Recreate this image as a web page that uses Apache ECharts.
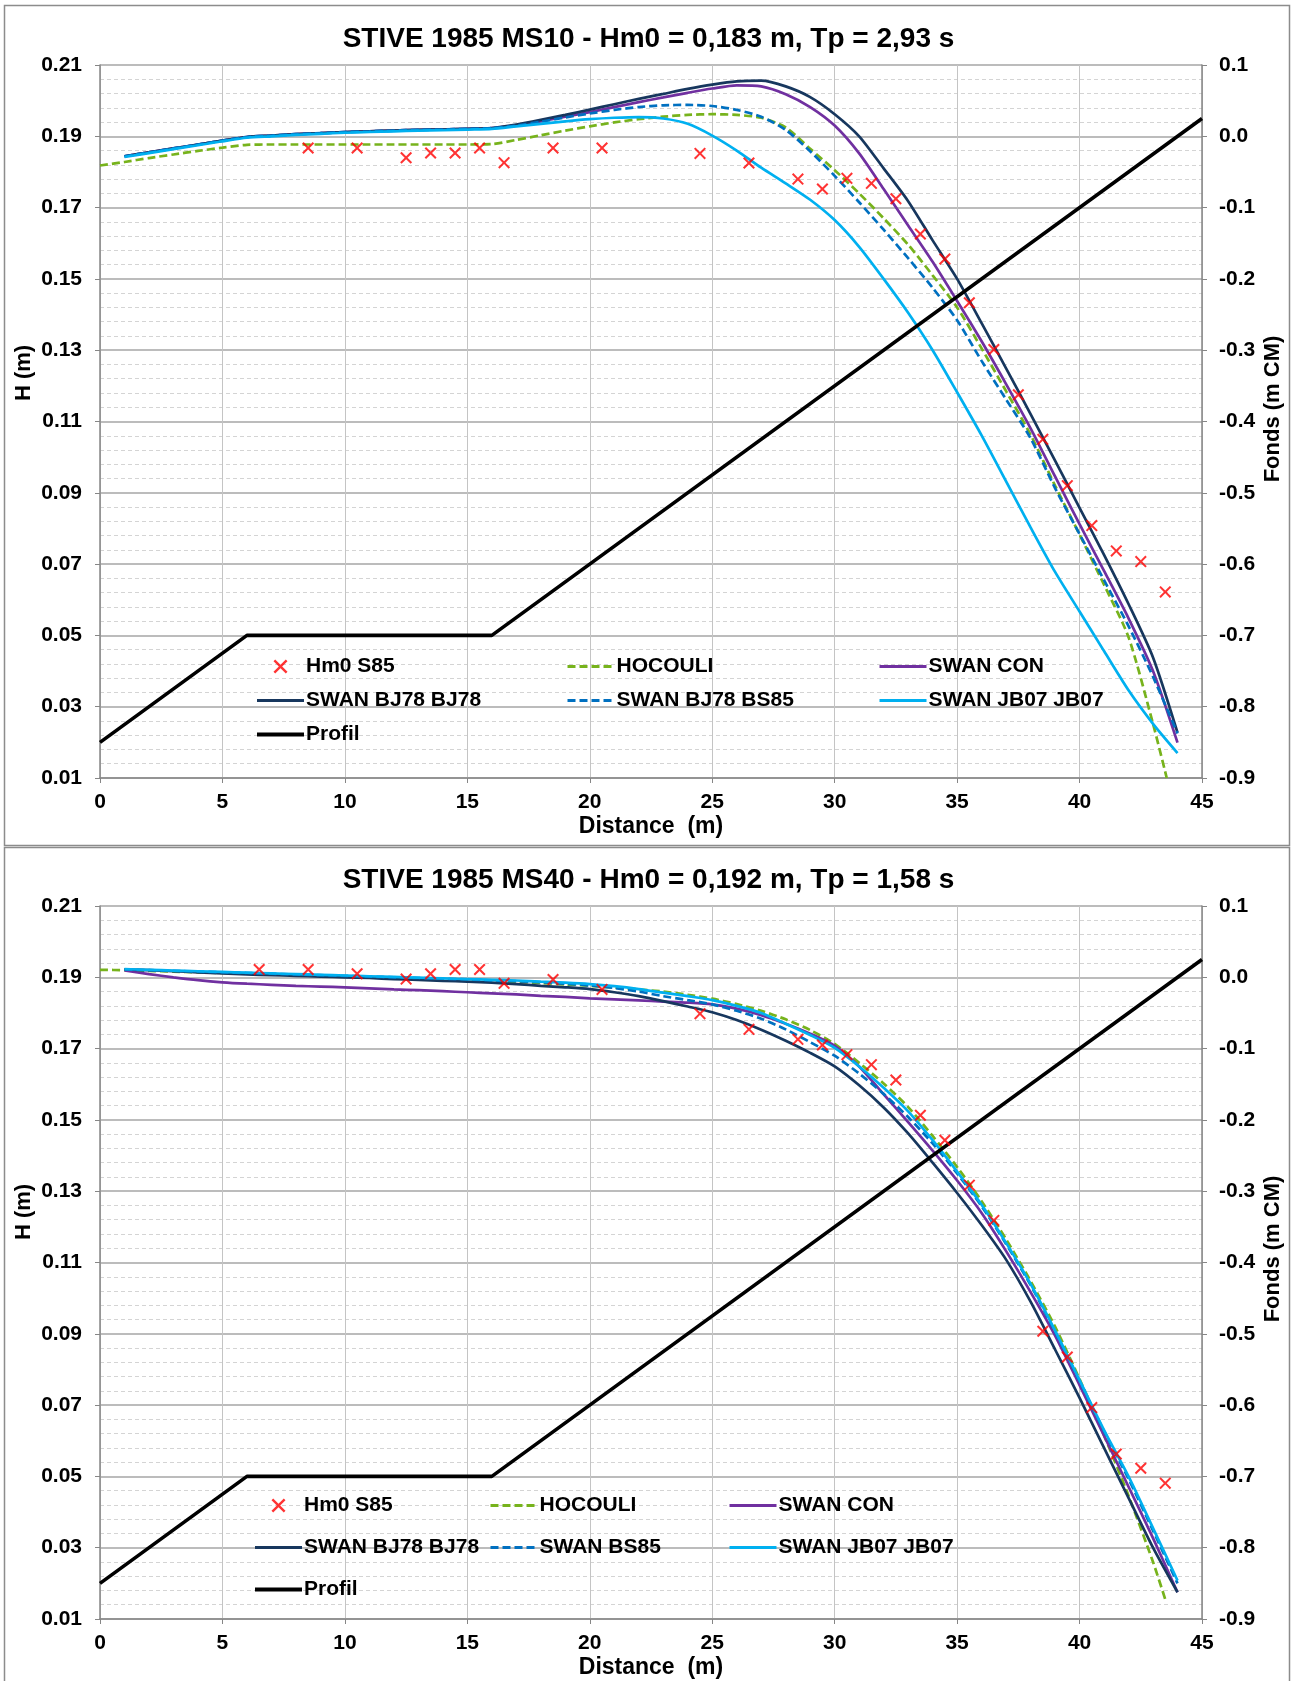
<!DOCTYPE html>
<html><head><meta charset="utf-8">
<script src="https://cdn.jsdelivr.net/npm/echarts@6/dist/echarts.min.js"></script>
<style>html,body{margin:0;padding:0;background:#fff}#c{width:1297px;height:1681px}</style>
</head><body><div id="c"></div>
<script>
// ---------- DATA ----------
const titleTop = 'STIVE 1985 MS10 - Hm0 = 0,183 m, Tp = 2,93 s';
const titleBot = 'STIVE 1985 MS40 - Hm0 = 0,192 m, Tp = 1,58 s';
const xTicks = [0, 5, 10, 15, 20, 25, 30, 35, 40, 45];

const distSwan = [1,2,3,4,5,6,7,8,9,10,11,12,13,14,15,16,17,18,19,20,21,22,23,24,25,26,27,28,29,30,31,32,33,34,35,36,37,38,39,40,41,42,43,44];
const distHocTop = [0,1,2,3,4,5,6,7,8,9,10,11,12,13,14,15,16,17,18,19,20,21,22,23,24,25,26,27,28,29,30,31,32,33,34,35,36,37,38,39,40,41,42,43,43.56];
const distHocBot = [0,1,2,3,4,5,6,7,8,9,10,11,12,13,14,15,16,17,18,19,20,21,22,23,24,25,26,27,28,29,30,31,32,33,34,35,36,37,38,39,40,41,42,43,43.5];
const distProfil = [0, 6, 16, 45];
const fondsProfil = [-0.85, -0.70, -0.70, 0.025];

// MS10 (top)
const distMeasTop = [8.5,10.5,12.5,13.5,14.5,15.5,16.5,18.5,20.5,24.5,26.5,28.5,29.5,30.5,31.5,32.5,33.5,34.5,35.5,36.5,37.5,38.5,39.5,40.5,41.5,42.5,43.5];
const hm0Top = [0.1867,0.1867,0.1840,0.1853,0.1853,0.1867,0.1826,0.1867,0.1867,0.1852,0.1825,0.1780,0.1752,0.1782,0.1768,0.1725,0.1626,0.1556,0.1433,0.1302,0.1175,0.1050,0.0920,0.0808,0.0737,0.0707,0.0622];
const hocTop = [0.1818,0.1828,0.1839,0.1849,0.1859,0.1868,0.1876,0.1877,0.1877,0.1877,0.1877,0.1877,0.1877,0.1877,0.1877,0.1877,0.1878,0.1890,0.1903,0.1916,0.1928,0.1939,0.1948,0.1955,0.1960,0.1962,0.1960,0.1952,0.1925,0.1865,0.1805,0.1740,0.1670,0.1596,0.1510,0.1420,0.1305,0.1185,0.1063,0.0920,0.0783,0.0642,0.0495,0.0252,0.0100];
const conTop = [0.1844,0.1855,0.1866,0.1877,0.1888,0.1898,0.1902,0.1906,0.1909,0.1912,0.1914,0.1916,0.1918,0.1919,0.1921,0.1923,0.1931,0.1942,0.1955,0.1968,0.1982,0.1996,0.2009,0.2022,0.2034,0.2043,0.2040,0.2018,0.1982,0.1930,0.1852,0.1752,0.1650,0.1548,0.1438,0.1325,0.1205,0.1081,0.0946,0.0812,0.0681,0.0548,0.0400,0.0199];
const bj78Top = [0.1844,0.1855,0.1866,0.1877,0.1888,0.1898,0.1902,0.1906,0.1909,0.1912,0.1914,0.1916,0.1918,0.1919,0.1921,0.1923,0.1933,0.1946,0.1960,0.1975,0.1990,0.2005,0.2019,0.2033,0.2045,0.2054,0.2056,0.2040,0.2010,0.1962,0.1900,0.1810,0.1718,0.1608,0.1500,0.1376,0.1249,0.1121,0.0990,0.0858,0.0726,0.0588,0.0438,0.0227];
const bs85Top = [0.1844,0.1855,0.1866,0.1877,0.1888,0.1898,0.1902,0.1906,0.1909,0.1912,0.1914,0.1916,0.1918,0.1919,0.1921,0.1923,0.1930,0.1941,0.1953,0.1964,0.1974,0.1982,0.1987,0.1988,0.1985,0.1974,0.1955,0.1918,0.1858,0.1789,0.1715,0.1638,0.1558,0.1475,0.1384,0.1270,0.1162,0.1053,0.0913,0.0784,0.0655,0.0526,0.0384,0.0225];
const jb07Top = [0.1842,0.1853,0.1864,0.1875,0.1886,0.1896,0.1900,0.1904,0.1907,0.1910,0.1912,0.1914,0.1916,0.1917,0.1919,0.1921,0.1928,0.1935,0.1942,0.1948,0.1952,0.1954,0.1950,0.1935,0.1902,0.1860,0.1812,0.1768,0.1722,0.1665,0.1590,0.1500,0.1405,0.1300,0.1182,0.1061,0.0932,0.0803,0.0678,0.0567,0.0456,0.0346,0.0252,0.0170];

// MS40 (bottom)
const distMeasBot = [6.5,8.5,10.5,12.5,13.5,14.5,15.5,16.5,18.5,20.5,24.5,26.5,28.5,29.5,30.5,31.5,32.5,33.5,34.5,35.5,36.5,38.5,39.5,40.5,41.5,42.5,43.5];
const hm0Bot = [0.1922,0.1922,0.1910,0.1895,0.1910,0.1922,0.1922,0.1883,0.1894,0.1866,0.1798,0.1754,0.1726,0.1710,0.1683,0.1655,0.1612,0.1513,0.1443,0.1317,0.1218,0.0907,0.0835,0.0693,0.0563,0.0523,0.0481];
const hocBot = [0.1921,0.1920,0.1918,0.1916,0.1914,0.1912,0.1910,0.1908,0.1906,0.1904,0.1902,0.1900,0.1898,0.1896,0.1894,0.1892,0.1890,0.1887,0.1884,0.1880,0.1876,0.1871,0.1866,0.1860,0.1851,0.1840,0.1825,0.1806,0.1782,0.1752,0.1713,0.1660,0.1602,0.1536,0.1455,0.1368,0.1272,0.1165,0.1048,0.0920,0.0773,0.0615,0.0446,0.0260,0.0155];
const conBot = [0.1919,0.1909,0.1900,0.1892,0.1886,0.1882,0.1879,0.1876,0.1874,0.1872,0.1869,0.1866,0.1864,0.1861,0.1858,0.1855,0.1852,0.1848,0.1845,0.1841,0.1838,0.1835,0.1832,0.1829,0.1824,0.1812,0.1794,0.1770,0.1742,0.1708,0.1650,0.1572,0.1494,0.1414,0.1330,0.1239,0.1132,0.1017,0.0895,0.0756,0.0614,0.0471,0.0327,0.0175];
const bj78Bot = [0.1922,0.1920,0.1917,0.1914,0.1911,0.1908,0.1906,0.1904,0.1902,0.1900,0.1898,0.1895,0.1893,0.1890,0.1888,0.1885,0.1881,0.1876,0.1872,0.1867,0.1858,0.1847,0.1833,0.1818,0.1802,0.1780,0.1753,0.1722,0.1688,0.1650,0.1597,0.1535,0.1462,0.1380,0.1295,0.1205,0.1108,0.0990,0.0856,0.0720,0.0580,0.0440,0.0300,0.0175];
const bs85Bot = [0.1922,0.1920,0.1918,0.1916,0.1914,0.1912,0.1910,0.1908,0.1906,0.1904,0.1902,0.1900,0.1898,0.1896,0.1894,0.1891,0.1889,0.1886,0.1882,0.1877,0.1870,0.1860,0.1847,0.1836,0.1824,0.1806,0.1784,0.1754,0.1718,0.1680,0.1630,0.1573,0.1508,0.1434,0.1350,0.1258,0.1152,0.1037,0.0906,0.0767,0.0627,0.0493,0.0348,0.0200];
const jb07Bot = [0.1923,0.1921,0.1919,0.1917,0.1915,0.1913,0.1911,0.1909,0.1907,0.1905,0.1903,0.1901,0.1899,0.1897,0.1895,0.1893,0.1891,0.1888,0.1885,0.1881,0.1875,0.1867,0.1857,0.1847,0.1836,0.1820,0.1800,0.1770,0.1738,0.1702,0.1650,0.1590,0.1524,0.1443,0.1355,0.1262,0.1155,0.1040,0.0909,0.0770,0.0630,0.0500,0.0355,0.0208];

const namesTop = ['Hm0 S85','HOCOULI','SWAN CON','SWAN BJ78 BJ78','SWAN BJ78 BS85','SWAN JB07 JB07','Profil'];
const namesBot = ['Hm0 S85','HOCOULI','SWAN CON','SWAN BJ78 BJ78','SWAN BS85','SWAN JB07 JB07','Profil'];

// ---------- STYLE ----------
const FONT = '"Liberation Sans", Arial, sans-serif';
const COL = {hm0:'#FF0000', hoc:'#77B31C', con:'#7030A0', bj78:'#17375E', bs85:'#0070C0', jb07:'#00B0F0', prof:'#000000'};
const GL = 100, GW = 1102, GH = 713;
const GT = [65, 906];
const XMARK = 'path://M0,1.2L1.2,0L5,3.8L8.8,0L10,1.2L6.2,5L10,8.8L8.8,10L5,6.2L1.2,10L0,8.8L3.8,5Z';

const zip = (xs, ys) => xs.map((x, i) => [x, ys[i]]);
const lbl = {fontFamily: FONT, fontWeight: 'bold', fontSize: 21, color: '#000'};

function xAx(gi) {
  return {type:'value', gridIndex:gi, min:0, max:45, interval:5,
    axisLine:{show:true, onZero:false, lineStyle:{color:'#868686', width:1.5}},
    axisTick:{show:true, length:5, lineStyle:{color:'#868686'}},
    axisLabel:Object.assign({margin:14, formatter: v => xTicks.includes(v) ? String(v) : ''}, lbl),
    splitLine:{show:true, lineStyle:{color:'#c4c4c4', width:1}},
    name:'Distance  (m)', nameLocation:'middle', nameGap:37,
    nameTextStyle:{fontFamily:FONT, fontWeight:'bold', fontSize:23, color:'#000'}};
}
function yL(gi) {
  return {type:'value', gridIndex:gi, position:'left', min:0.01, max:0.21, interval:0.02,
    axisLine:{show:true, onZero:false, lineStyle:{color:'#868686', width:1.5}},
    axisTick:{show:true, length:5, lineStyle:{color:'#868686'}},
    axisLabel:Object.assign({margin:18, formatter: v => v.toFixed(2)}, lbl),
    splitLine:{show:true, lineStyle:{color:'#a6a6a6', width:1.5}},
    minorTick:{show:false, splitNumber:5},
    minorSplitLine:{show:true, lineStyle:{color:'#d4d4d4', type:[4,3], width:1}}};
}
function yR(gi) {
  return {type:'value', gridIndex:gi, position:'right', min:-0.9, max:0.1, interval:0.1,
    axisLine:{show:true, onZero:false, lineStyle:{color:'#868686', width:1.5}},
    axisTick:{show:true, length:5, lineStyle:{color:'#868686'}},
    axisLabel:Object.assign({margin:17, formatter: v => Math.abs(v) < 1e-9 ? '0.0' : v.toFixed(1)}, lbl),
    splitLine:{show:false}};
}
function line(name, xs, ys, gi, color, dashed) {
  return {type:'line', name, xAxisIndex:gi, yAxisIndex:gi*2, data:zip(xs, ys),
    symbol:'none', smooth:0.25, color,
    lineStyle:{color, width:2.7, type: dashed ? [8,4] : 'solid'}, z:2};
}
function profil(gi) {
  return {type:'line', name:'Profil', xAxisIndex:gi, yAxisIndex:gi*2+1, data:zip(distProfil, fondsProfil),
    symbol:'none', color:COL.prof, lineStyle:{color:COL.prof, width:3.6}, z:3};
}
function meas(xs, ys, gi) {
  return {type:'scatter', name:'Hm0 S85', xAxisIndex:gi, yAxisIndex:gi*2, data:zip(xs, ys),
    symbol:XMARK, symbolSize:12, itemStyle:{color:COL.hm0}, z:4};
}
const legItem = n => n === 'Hm0 S85' ? {name:n}
  : {name:n, itemStyle:{opacity:0, borderWidth:0}, lineStyle:{width: n === 'Profil' ? 4 : 3}};
function legend(left, top, gap, data) {
  return {orient:'vertical', left, top, padding:0, itemGap:gap, itemWidth:47, itemHeight:14,
    selectedMode:false, data:data.map(legItem),
    textStyle:{fontFamily:FONT, fontWeight:'bold', fontSize:21, color:'#000', padding:[0,0,0,-3]}};
}

const series = [
  line('HOCOULI', distHocTop, hocTop, 0, COL.hoc, true),
  line('SWAN CON', distSwan, conTop, 0, COL.con, false),
  line('SWAN BJ78 BJ78', distSwan, bj78Top, 0, COL.bj78, false),
  line('SWAN BJ78 BS85', distSwan, bs85Top, 0, COL.bs85, true),
  line('SWAN JB07 JB07', distSwan, jb07Top, 0, COL.jb07, false),
  profil(0),
  meas(distMeasTop, hm0Top, 0),
  line('HOCOULI', distHocBot, hocBot, 1, COL.hoc, true),
  line('SWAN CON', distSwan, conBot, 1, COL.con, false),
  line('SWAN BJ78 BJ78', distSwan, bj78Bot, 1, COL.bj78, false),
  line('SWAN BS85', distSwan, bs85Bot, 1, COL.bs85, true),
  line('SWAN JB07 JB07', distSwan, jb07Bot, 1, COL.jb07, false),
  profil(1),
  meas(distMeasBot, hm0Bot, 1)
];

const axName = (text, x, y) => ({type:'text', x, y, rotation:Math.PI/2,
  style:{text, fill:'#000', font:'bold 22px ' + FONT, align:'center', verticalAlign:'middle'}});

const option = {
  animation:false,
  backgroundColor:'#fff',
  title:[
    {text:titleTop, left:'center', top:20, textStyle:{fontFamily:FONT, fontWeight:'bold', fontSize:28, color:'#000'}},
    {text:titleBot, left:'center', top:861, textStyle:{fontFamily:FONT, fontWeight:'bold', fontSize:28, color:'#000'}}
  ],
  grid:[
    {left:GL, top:GT[0], width:GW, height:GH},
    {left:GL, top:GT[1], width:GW, height:GH}
  ],
  xAxis:[xAx(0), xAx(1)],
  yAxis:[yL(0), yR(0), yL(1), yR(1)],
  legend:[
    legend(255, 656, 13, [namesTop[0], namesTop[3], namesTop[6]]),
    legend(566, 656, 13, [namesTop[1], namesTop[4]]),
    legend(878, 656, 13, [namesTop[2], namesTop[5]]),
    legend(253, 1495, 21, [namesBot[0], namesBot[3], namesBot[6]]),
    legend(489, 1495, 21, [namesBot[1], namesBot[4]]),
    legend(728, 1495, 21, [namesBot[2], namesBot[5]])
  ],
  graphic:[
    {type:'rect', shape:{x:4.5, y:5.5, width:1285, height:840}, style:{fill:'none', stroke:'#8c8c8c', lineWidth:1.5}, silent:true},
    {type:'rect', shape:{x:4.5, y:847.5, width:1285, height:845}, style:{fill:'none', stroke:'#8c8c8c', lineWidth:1.5}, silent:true},
    axName('H (m)', 24, 373),
    axName('Fonds (m CM)', 1273, 409),
    axName('H (m)', 24, 1212),
    axName('Fonds (m CM)', 1273, 1249)
  ],
  series
};

const chart = echarts.init(document.getElementById('c'), null, {renderer:'canvas'});
chart.setOption(option);
</script>
</body></html>
